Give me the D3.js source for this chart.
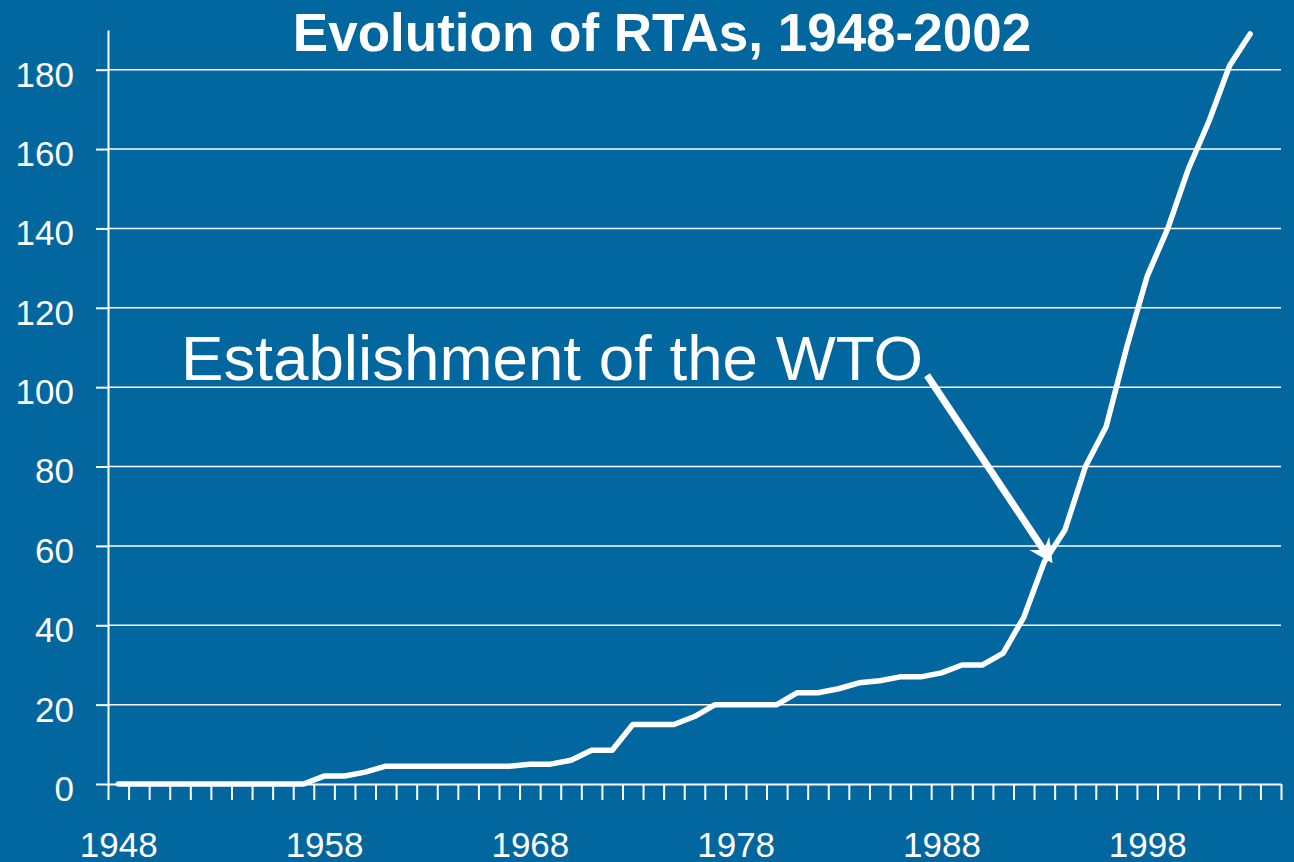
<!DOCTYPE html>
<html>
<head>
<meta charset="utf-8">
<script src="https://cdn.jsdelivr.net/npm/d3@7"></script>
<style>
  html, body { margin: 0; padding: 0; background: #02669f; }
  svg { display: block; font-family: "Liberation Sans", Arial, sans-serif; }
</style>
</head>
<body>
<div id="vis"></div>
<script>
// cumulative number of RTAs in force
var years = [1948, 1949, 1950, 1951, 1952, 1953, 1954, 1955, 1956, 1957,
             1958, 1959, 1960, 1961, 1962, 1963, 1964, 1965, 1966, 1967,
             1968, 1969, 1970, 1971, 1972, 1973, 1974, 1975, 1976, 1977,
             1978, 1979, 1980, 1981, 1982, 1983, 1984, 1985, 1986, 1987,
             1988, 1989, 1990, 1991, 1992, 1993, 1994, 1995, 1996, 1997,
             1998, 1999, 2000, 2001, 2002, 2003];
var rtas = [0, 0, 0, 0, 0, 0, 0, 0, 0, 0,
            2, 2, 3, 4.5, 4.5, 4.5, 4.5, 4.5, 4.5, 4.5,
            5, 5, 6, 8.5, 8.5, 15, 15, 15, 17, 20,
            20, 20, 20, 23, 23, 24, 25.5, 26, 27, 27,
            28, 30, 30, 33, 42, 56, 64, 80, 90, 110,
            128, 140, 155, 167, 181, 189];

var yTicks = [0, 20, 40, 60, 80, 100, 120, 140, 160, 180];
var xLabels = [1948, 1958, 1968, 1978, 1988, 1998];
var firstYear = 1948, lastYear = 2004;

var title = "Evolution of RTAs, 1948-2002";
var note = "Establishment of the WTO";
// arrow from the note to the curve, in data units
var noteFrom = {year: 1987.3, value: 103};
var noteTo = {year: 1993.4, value: 55.6};

var width = 1294, height = 862;
var plotLeft = 108, plotRight = 1281, plotTop = 30, plotBottom = 784;

var svg = d3.select("#vis").append("svg")
    .attr("width", width)
    .attr("height", height);

svg.append("rect")
    .attr("width", width)
    .attr("height", height)
    .attr("fill", "#02669f");

var x = d3.scaleLinear()
    .domain([firstYear - 0.5, lastYear + 0.5])
    .range([plotLeft, plotRight]);

var y = d3.scaleLinear()
    .domain([0, 190])
    .range([plotBottom, plotTop]);

// gridlines
svg.append("g")
    .selectAll("line")
    .data(yTicks.filter(function (d) { return d > 0; }))
    .join("line")
    .attr("x1", plotLeft)
    .attr("x2", plotRight)
    .attr("y1", function (d) { return y(d); })
    .attr("y2", function (d) { return y(d); })
    .attr("stroke", "#fff")
    .attr("stroke-width", 1.5);

// y axis
var yAxis = svg.append("g")
    .attr("transform", "translate(" + plotLeft + ",0)")
    .call(d3.axisLeft(y).tickValues(yTicks).tickSize(12).tickSizeOuter(0).tickPadding(22));

// x axis ticks at year boundaries
var bounds = d3.range(firstYear - 0.5, lastYear + 1, 1);
svg.append("g")
    .attr("transform", "translate(0," + plotBottom + ")")
    .call(d3.axisBottom(x).tickValues(bounds).tickFormat("").tickSize(16).tickSizeOuter(0));

var xText = svg.append("g")
    .attr("transform", "translate(0," + plotBottom + ")")
    .call(d3.axisBottom(x).tickValues(xLabels).tickFormat(d3.format("d")).tickSize(0).tickPadding(48));
xText.select(".domain").remove();

svg.selectAll(".domain, .tick line")
    .attr("stroke", "#fff")
    .attr("stroke-width", 2);

svg.selectAll(".tick text")
    .attr("fill", "#fff")
    .attr("font-size", 35)
    .attr("font-family", "'Liberation Sans', Arial, sans-serif");

yAxis.selectAll(".tick text").attr("dy", "0.47em");

// the series
var line = d3.line()
    .x(function (d, i) { return x(years[i]); })
    .y(function (d) { return y(d); });

svg.append("path")
    .datum(rtas)
    .attr("d", line)
    .attr("fill", "none")
    .attr("stroke", "#fff")
    .attr("stroke-width", 5.5)
    .attr("stroke-linejoin", "round")
    .attr("stroke-linecap", "round");

// title
svg.append("text")
    .attr("x", 662)
    .attr("y", 51)
    .attr("text-anchor", "middle")
    .attr("fill", "#fff")
    .attr("font-size", 53)
    .attr("font-weight", "bold")
    .text(title);

// annotation
svg.append("text")
    .attr("x", 181)
    .attr("y", 380)
    .attr("fill", "#fff")
    .attr("font-size", 63.7)
    .text(note);

var x0 = x(noteFrom.year), y0 = y(noteFrom.value);
var x1 = x(noteTo.year), y1 = y(noteTo.value);
var len = Math.hypot(x1 - x0, y1 - y0);
var ux = (x1 - x0) / len, uy = (y1 - y0) / len;
var head = 24, half = 12, notch = 16;

svg.append("line")
    .attr("x1", x0)
    .attr("y1", y0)
    .attr("x2", x1 - ux * notch)
    .attr("y2", y1 - uy * notch)
    .attr("stroke", "#fff")
    .attr("stroke-width", 7);

svg.append("path")
    .attr("d", "M" + x1 + "," + y1 +
        "L" + (x1 - ux * head - uy * half) + "," + (y1 - uy * head + ux * half) +
        "L" + (x1 - ux * notch) + "," + (y1 - uy * notch) +
        "L" + (x1 - ux * head + uy * half) + "," + (y1 - uy * head - ux * half) + "Z")
    .attr("fill", "#fff");
</script>
</body>
</html>
